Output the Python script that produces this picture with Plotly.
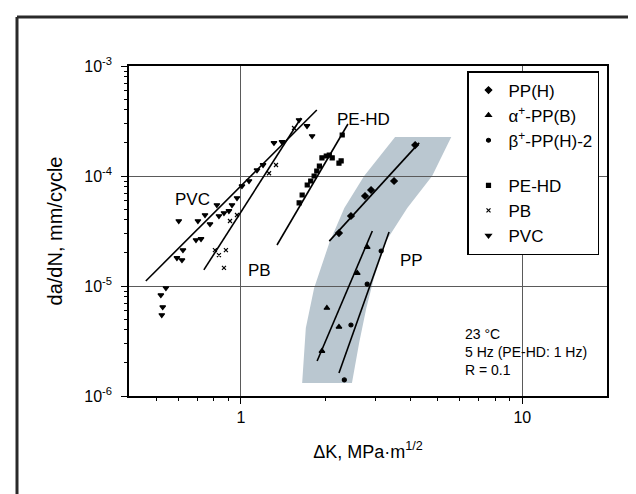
import plotly.graph_objects as go

# ---------------- data ----------------
# PP(H)
pph_dk = [2.23, 2.46, 2.76, 2.90, 3.50, 4.16]
pph_rate = [3.03e-5, 4.33e-5, 6.58e-5, 7.46e-5, 9.01e-5, 1.91e-4]
pph_fit_dk = [2.06, 4.30]
pph_fit_rate = [2.56e-5, 2.0e-4]

# alpha+-PP(B)
ppb_dk = [2.81, 2.59, 2.02, 2.23, 1.94]
ppb_rate = [2.26e-5, 1.31e-5, 6.31e-6, 4.24e-6, 2.56e-6]
ppb_fit_dk = [1.865, 2.93]
ppb_fit_rate = [2.08e-6, 3.16e-5]

# beta+-PP(H)-2
pph2_dk = [3.15, 2.81, 2.46, 2.33]
pph2_rate = [2.08e-5, 1.04e-5, 4.42e-6, 1.40e-6]
pph2_fit_dk = [2.23, 3.36]
pph2_fit_rate = [1.62e-6, 3.10e-5]

# PE-HD
pehd_dk = [1.61, 1.65, 1.72, 1.77, 1.82, 1.86, 1.90, 1.94, 2.01, 2.06, 2.11, 2.23, 2.27, 2.29]
pehd_rate = [5.69e-5, 6.72e-5, 8.28e-5, 9.01e-5, 1.0e-4, 1.11e-4, 1.23e-4, 1.46e-4,
             1.52e-4, 1.55e-4, 1.46e-4, 1.31e-4, 1.37e-4, 2.36e-4]
pehd_fit_dk = [1.343, 2.40]
pehd_fit_rate = [2.36e-5, 2.97e-4]

# PB
pb_dk = [0.808, 0.884, 0.835, 0.870, 0.914, 0.968, 1.258, 1.332, 1.544]
pb_rate = [2.12e-5, 2.12e-5, 1.91e-5, 1.46e-5, 3.90e-5, 4.42e-5, 1.06e-4, 1.26e-4, 2.73e-4]
pb_fit_dk = [0.738, 1.635]
pb_fit_rate = [1.40e-5, 3.37e-4]

# PVC
pvc_dk = [0.519, 0.527, 0.523, 0.541, 0.592, 0.617, 0.622, 0.692, 0.721, 0.601, 0.703,
          0.745, 0.776, 0.821, 0.835, 0.870, 0.906, 0.929, 0.968, 1.008, 1.068, 1.140,
          1.198, 1.310, 1.399, 1.608, 1.717, 1.790]
pvc_rate = [8.28e-6, 6.44e-6, 5.45e-6, 9.59e-6, 1.80e-5, 1.72e-5, 2.12e-5, 2.62e-5,
            2.68e-5, 3.90e-5, 3.90e-5, 4.42e-5, 3.66e-5, 5.45e-5, 4.33e-5, 4.61e-5,
            4.81e-5, 5.45e-5, 6.31e-5, 8.11e-5, 9.01e-5, 1.13e-4, 1.26e-4, 2.0e-4,
            2.04e-4, 3.23e-4, 2.85e-4, 2.31e-4]
pvc_fit_dk = [0.459, 1.86]
pvc_fit_rate = [1.11e-5, 3.98e-4]

# PP scatter band (outline)
band_left_dk = [3.53, 2.74, 2.33, 2.06, 1.82, 1.70, 1.65]
band_left_rate = [2.26e-4, 1.0e-4, 5.12e-5, 2.46e-5, 9.6e-6, 4.15e-6, 1.31e-6]
band_right_dk = [5.59, 4.78, 3.90, 3.28, 2.97, 2.79, 2.63, 2.48]
band_right_rate = [2.26e-4, 1.0e-4, 5.12e-5, 2.56e-5, 1.18e-5, 6.3e-6, 3.03e-6, 1.31e-6]

x_tick_vals = [1, 10]
x_tick_text = ["1", "10"]
y_tick_vals = [1e-6, 1e-5, 1e-4, 1e-3]
y_tick_text = ["10<sup>-6</sup>", "10<sup>-5</sup>", "10<sup>-4</sup>", "10<sup>-3</sup>"]

# ---------------- figure ----------------
FONT = "Liberation Sans, Arial, sans-serif"
W, H = 636, 494
ML, MR, MT, MB = 121, 37, 58, 106
PW, PH = W - ML - MR, H - MT - MB


def px(xp):
    return (xp - ML) / PW


def py(yp):
    return (H - MB - yp) / PH


fig = go.Figure()

series = [
    ("PP(H)", pph_dk, pph_rate, "diamond", 5, "pp"),
    ("α<sup>+</sup>-PP(B)", ppb_dk, ppb_rate, "triangle-up", 5, "pp"),
    ("β<sup>+</sup>-PP(H)-2", pph2_dk, pph2_rate, "circle", 4, "pp"),
    ("PE-HD", pehd_dk, pehd_rate, "square", 4, "other"),
    ("PB", pb_dk, pb_rate, "x-thin-open", 4, "other"),
    ("PVC", pvc_dk, pvc_rate, "triangle-down", 5, "other"),
]
for name, xs, ys, sym, size, grp in series:
    fig.add_trace(go.Scatter(
        x=xs, y=ys, mode="markers", name=name, legendgroup=grp,
        marker=dict(symbol=sym, size=size, color="black",
                    line=dict(color="black", width=1.2)),
    ))

fits = [(pph_fit_dk, pph_fit_rate), (ppb_fit_dk, ppb_fit_rate), (pph2_fit_dk, pph2_fit_rate),
        (pehd_fit_dk, pehd_fit_rate), (pb_fit_dk, pb_fit_rate), (pvc_fit_dk, pvc_fit_rate)]
for xs, ys in fits:
    fig.add_trace(go.Scatter(x=xs, y=ys, mode="lines", showlegend=False,
                             line=dict(color="black", width=1.6), hoverinfo="skip"))

# band as a shape in data coordinates (below grid lines)
pts = list(zip(band_left_dk, band_left_rate)) + list(zip(band_right_dk, band_right_rate))[::-1]
path = "M " + " L ".join(f"{a},{b}" for a, b in pts) + " Z"
shapes = [
    dict(type="path", xref="x", yref="y", path=path, fillcolor="rgb(186,199,208)",
         line=dict(width=0), layer="below"),
    # white box behind the PB label
    dict(type="rect", xref="paper", yref="paper", x0=px(221), x1=px(256), y0=py(282), y1=py(218),
         fillcolor="white", line=dict(width=0), layer="between"),
    # outer frame
    dict(type="line", xref="paper", yref="paper", x0=px(9), x1=px(633), y0=py(9), y1=py(9),
         line=dict(color="#2a2a2a", width=3)),
    dict(type="line", xref="paper", yref="paper", x0=px(9), x1=px(9), y0=py(9), y1=py(490),
         line=dict(color="#2a2a2a", width=3)),
    dict(type="line", xref="paper", yref="paper", x0=px(633), x1=px(633), y0=py(9), y1=py(490),
         line=dict(color="#2a2a2a", width=2)),
    dict(type="line", xref="paper", yref="paper", x0=px(9), x1=px(633), y0=py(490), y1=py(490),
         line=dict(color="#d0d0d0", width=2)),
]

annotations = [
    dict(text="PVC", x=px(165), y=py(192)),
    dict(text="PE-HD", x=px(355), y=py(100)),
    dict(text="PB", x=px(238), y=py(262)),
    dict(text="PP", x=px(403), y=py(253)),
]
annotations = [dict(a, xref="paper", yref="paper", showarrow=False,
                    font=dict(family=FONT, size=17, color="black")) for a in annotations]
annotations.append(dict(
    text="23 °C<br>5 Hz (PE-HD: 1 Hz)<br>R = 0.1", xref="paper", yref="paper",
    x=px(455), y=py(316), xanchor="left", yanchor="top", align="left", showarrow=False,
    font=dict(family=FONT, size=14, color="black")))

axis_common = dict(
    type="log", showline=True, linecolor="black", linewidth=1.5, mirror=True,
    ticks="outside", ticklen=6, tickcolor="black", tickwidth=1.2,
    showgrid=True, gridcolor="#5a5a5a", gridwidth=1.2, zeroline=False,
    tickfont=dict(family=FONT, size=16, color="black"),
)

fig.update_layout(
    width=W, height=H,
    margin=dict(l=ML, r=MR, t=MT, b=MB),
    paper_bgcolor="white", plot_bgcolor="white",
    font=dict(family=FONT, color="black"),
    showlegend=True,
    legend=dict(x=px(459), y=py(63), xanchor="left", yanchor="top",
                bgcolor="white", bordercolor="black", borderwidth=1.5,
                font=dict(family=FONT, size=17, color="black"),
                tracegroupgap=20, itemwidth=30, traceorder="grouped"),
    xaxis=dict(axis_common, range=[-0.398, 1.301], tickvals=x_tick_vals, ticktext=x_tick_text,
               minor=dict(ticks="outside", ticklen=3, tickcolor="black", showgrid=False,
                          tickvals=[0.5, 0.6, 0.7, 0.8, 0.9, 2, 3, 4, 5, 6, 7, 8, 9]),
               title=dict(text="ΔK, MPa·m<sup>1/2</sup>", standoff=20,
                          font=dict(family=FONT, size=18, color="black"))),
    yaxis=dict(axis_common, range=[-6, -3], tickvals=y_tick_vals, ticktext=y_tick_text,
               ticklabelstandoff=6,
               minor=dict(ticks="outside", ticklen=3, tickcolor="black", showgrid=False,
                          tickvals=[m * 10 ** e for e in (-6, -5, -4) for m in range(2, 10)]),
               title=dict(text="da/dN, mm/cycle", standoff=16,
                          font=dict(family=FONT, size=20, color="black"))),
    shapes=shapes,
    annotations=annotations,
)

fig.write_html("out.html")
